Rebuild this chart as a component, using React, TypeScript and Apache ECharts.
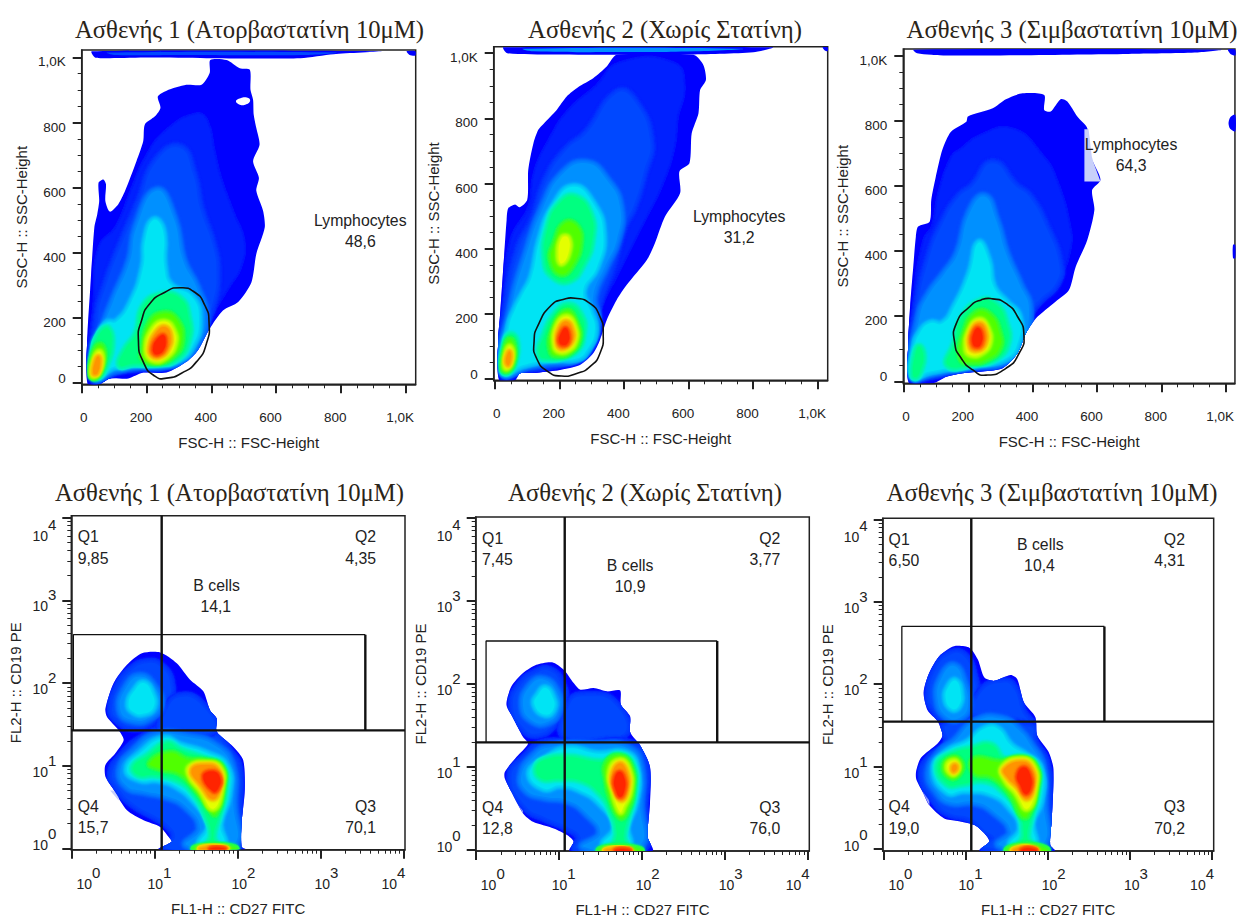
import React, { useEffect, useRef } from "react";
import * as echarts from "echarts";

type Contour = [number, number[][]];

const titles = [
  "Ασθενής 1 (Ατορβαστατίνη 10μΜ)",
  "Ασθενής 2 (Χωρίς Στατίνη)",
  "Ασθενής 3 (Σιμβαστατίνη 10μΜ)",
  "Ασθενής 1 (Ατορβαστατίνη 10μΜ)",
  "Ασθενής 2 (Χωρίς Στατίνη)",
  "Ασθενής 3 (Σιμβαστατίνη 10μΜ)",
];
const fscTicks = [0, 200, 400, 600, 800, 1000];
const fscMinorTicks = [50, 100, 150, 250, 300, 350, 450, 500, 550, 650, 700, 750, 850, 900, 950];
const logTicks = [1, 10, 100, 1000, 10000];
const logMinorTicks = [2, 3, 4, 5, 6, 7, 8, 9, 20, 30, 40, 50, 60, 70, 80, 90, 200, 300, 400, 500, 600, 700, 800, 900, 2000, 3000, 4000, 5000, 6000, 7000, 8000, 9000];

const palette = ["#0000ff", "#0020ff", "#0048ff", "#0090ff", "#00e4f4", "#00ff80", "#50ff00", "#e4ff00", "#ff9400", "#ff2400", "#ffffff", "#c8d0fa"];

const contoursA: Contour[] = [
  [0, [[18,-4],[18,151],[26,284],[39,477],[48,518],[54,559],[52,615],[67,625],[75,610],[73,559],[87,526],[113,549],[134,590],[169,681],[190,743],[195,794],[226,819],[243,845],[235,880],[262,898],[323,916],[370,916],[395,952],[397,992],[447,992],[488,967],[519,962],[521,901],[529,870],[531,824],[539,783],[549,732],[529,681],[547,630],[539,590],[560,528],[565,477],[539,396],[524,309],[483,248],[436,222],[395,166],[359,100],[323,64],[262,31],[190,31],[144,13],[87,13],[56,-4]]],
  [0, [[31,1019],[41,1000],[87,998],[210,1000],[385,998],[675,998],[778,1010],[925,1019]]],
  [0, [[1003,1019],[1012,1008],[1030,1006],[1030,1019]]],
  [2, [[80,1015],[100,1008],[300,1008],[700,1008],[780,1015]]],
  [10, [[476,866],[490,875],[510,877],[520,868],[508,856],[488,855]]],
  [1, [[31,8],[41,253],[56,416],[108,477],[159,600],[200,692],[262,773],[354,824],[385,804],[406,712],[426,630],[467,518],[498,437],[488,355],[457,304],[406,222],[365,151],[323,90],[262,49],[180,44],[108,29]]],
  [2, [[46,18],[51,202],[77,304],[128,437],[180,559],[231,681],[303,722],[344,640],[365,538],[406,416],[416,334],[406,253],[375,171],[334,100],[262,54],[190,49],[108,39]]],
  [3, [[41,18],[62,151],[98,253],[149,375],[169,477],[231,590],[283,508],[313,375],[354,294],[380,202],[354,120],[313,74],[252,54],[180,54],[98,39]]],
  [4, [[46,23],[56,131],[77,182],[108,187],[154,250],[190,355],[197,440],[222,500],[250,470],[255,355],[275,300],[339,265],[362,192],[339,110],[293,69],[231,59],[159,59],[98,49]]],
  [5, [[118,54],[133,100],[169,151],[190,233],[241,269],[303,259],[329,202],[329,131],[293,74],[231,59],[159,59]]],
  [5, [[36,23],[36,90],[56,151],[82,166],[92,110],[77,59],[56,23]]],
  [6, [[190,100],[210,182],[252,212],[293,192],[308,131],[283,85],[231,64],[190,75]]],
  [6, [[31,23],[39,90],[56,115],[68,90],[56,39],[41,18]]],
  [7, [[200,100],[221,167],[257,187],[283,161],[288,120],[262,80],[221,69]]],
  [7, [[34,23],[41,75],[54,95],[62,75],[51,34]]],
  [8, [[210,110],[231,156],[257,171],[274,146],[267,105],[241,80],[216,84]]],
  [8, [[36,29],[43,69],[52,80],[56,64],[48,29]]],
  [9, [[221,110],[231,131],[252,146],[259,125],[252,100],[236,88],[223,92]]],
];
const gateA = [[303,292],[349,278],[380,238],[393,187],[385,120],[354,64],[308,29],[262,14],[226,20],[190,64],[175,131],[185,192],[210,243],[257,278]];

const contoursB: Contour[] = [
  [0, [[14,-4],[11,120],[17,202],[27,345],[37,488],[42,524],[63,536],[78,527],[101,550],[104,642],[120,724],[135,765],[151,783],[192,826],[223,867],[259,896],[305,923],[347,959],[378,995],[615,995],[646,964],[654,918],[636,887],[631,816],[610,754],[603,662],[572,637],[574,570],[527,498],[496,417],[471,365],[409,289],[378,243],[347,181],[326,120],[305,79],[264,43],[202,28],[120,19],[78,17],[63,-4]]],
  [0, [[27,1018],[39,1000],[183,996],[594,996],[801,1003],[860,1018]]],
  [0, [[1015,1018],[1022,1008],[1031,1006],[1031,1018]]],
  [3, [[90,1014],[120,1006],[400,1004],[620,1006],[760,1014]]],
  [1, [[22,17],[32,242],[53,427],[109,529],[125,631],[171,733],[233,826],[316,897],[388,968],[553,968],[584,896],[563,804],[553,712],[512,589],[471,507],[429,425],[378,323],[331,231],[305,140],[274,79],[222,48],[161,33],[78,23]]],
  [2, [[27,23],[42,242],[78,406],[120,488],[161,611],[223,703],[285,754],[378,877],[429,857],[481,734],[460,631],[429,529],[398,468],[362,345],[326,253],[300,161],[274,99],[223,58],[161,43],[78,33]]],
  [3, [[27,23],[53,222],[99,386],[151,529],[212,631],[285,662],[347,611],[388,529],[378,427],[342,345],[305,253],[316,181],[295,107],[254,63],[182,53],[109,43]]],
  [4, [[29,26],[45,161],[63,212],[89,263],[115,314],[140,427],[181,529],[243,590],[305,538],[336,445],[316,343],[274,271],[295,211],[310,150],[285,89],[254,63],[182,63],[130,53],[89,43]]],
  [5, [[156,365],[166,468],[202,539],[249,559],[296,507],[301,425],[275,354],[233,303],[181,314]]],
  [5, [[140,74],[156,140],[181,191],[228,227],[269,191],[274,140],[254,89],[212,69],[176,63]]],
  [5, [[27,26],[32,99],[47,135],[66,120],[63,58],[42,23]]],
  [6, [[176,365],[187,417],[218,477],[254,467],[264,417],[243,355],[207,323]]],
  [6, [[176,84],[181,150],[223,207],[254,166],[259,120],[233,84],[202,74]]],
  [6, [[27,33],[35,94],[47,120],[58,94],[53,48],[39,28]]],
  [7, [[198,376],[208,432],[228,432],[228,386],[208,355]]],
  [7, [[187,99],[192,161],[223,191],[249,156],[249,115],[228,89],[202,84]]],
  [7, [[32,43],[39,89],[47,99],[54,79],[47,48],[37,33]]],
  [8, [[194,110],[200,156],[223,176],[241,150],[241,120],[223,99],[204,94]]],
  [8, [[35,53],[41,79],[47,84],[50,68],[43,43]]],
  [9, [[200,115],[208,145],[221,156],[230,135],[228,115],[215,104]]],
];
const gateB = [[249,248],[295,232],[326,191],[336,140],[326,79],[295,38],[254,17],[207,9],[166,22],[130,63],[122,115],[135,166],[176,227],[212,244]];

const contoursC: Contour[] = [
  [0, [[16,-6],[13,106],[19,229],[29,352],[37,444],[44,475],[80,490],[85,557],[99,628],[116,700],[127,731],[147,767],[194,797],[199,813],[276,838],[317,866],[369,884],[436,879],[436,833],[456,828],[487,866],[508,859],[539,813],[570,777],[580,690],[590,669],[611,618],[585,587],[592,526],[570,434],[534,352],[513,280],[472,245],[410,193],[379,147],[353,86],[307,40],[245,30],[183,25],[132,14],[91,-6]]],
  [0, [[29,1018],[41,1007],[132,1000],[698,1005],[904,1009],[987,1018]]],
  [0, [[1007,1018],[1015,1005],[1030,1000],[1030,1018]]],
  [0, [[1030,818],[1014,810],[1009,792],[1014,775],[1030,767]]],
  [0, [[1023,419],[1030,419],[1030,378],[1023,378]]],
  [11, [[561,774],[574,774],[584,690],[590,669],[611,613],[561,613]]],
  [1, [[24,14],[34,250],[65,435],[91,475],[111,578],[152,690],[178,710],[235,751],[338,772],[430,690],[471,619],[513,475],[513,404],[482,322],[430,250],[389,189],[358,106],[307,55],[224,40],[153,30],[80,14]]],
  [2, [[29,19],[44,229],[80,383],[121,485],[173,567],[214,598],[276,669],[348,598],[389,567],[441,475],[482,362],[472,301],[420,250],[379,199],[358,127],[307,60],[224,45],[153,35],[80,19]]],
  [3, [[29,19],[49,199],[80,270],[127,332],[168,393],[204,516],[250,567],[286,495],[317,393],[358,301],[389,219],[358,106],[307,60],[224,50],[153,40],[80,25]]],
  [4, [[29,19],[34,106],[49,147],[80,178],[121,178],[158,230],[205,332],[232,425],[262,373],[278,291],[317,245],[358,199],[353,117],[317,71],[245,55],[163,45],[80,30]]],
  [5, [[137,50],[158,117],[178,189],[235,245],[286,235],[317,178],[322,117],[286,71],[224,55]]],
  [5, [[29,19],[34,76],[47,106],[60,76],[51,35],[39,14]]],
  [6, [[178,71],[188,147],[224,209],[266,204],[296,147],[296,102],[260,71],[214,60]]],
  [7, [[194,97],[204,158],[235,189],[260,163],[266,117],[240,86],[209,81]]],
  [8, [[206,106],[212,158],[235,178],[253,158],[253,117],[232,96]]],
  [9, [[214,117],[219,153],[232,163],[243,142],[240,117],[228,106]]],
];
const gateC = [[276,253],[317,239],[353,199],[373,142],[358,86],[317,40],[255,19],[214,35],[178,71],[158,117],[163,178],[204,229],[240,250]];

// lower row: points are log10 of FL1-H and FL2-H
const contoursD: Contour[] = [
  [0, [[1.05,-0.01],[1.21,0.08],[1.17,0.14],[1.07,0.26],[0.87,0.34],[0.67,0.46],[0.51,0.71],[0.41,0.87],[0.41,1.01],[0.53,1.15],[0.63,1.31],[0.57,1.43],[0.43,1.59],[0.41,1.69],[0.51,2.0],[0.67,2.22],[0.85,2.36],[1.07,2.37],[1.27,2.24],[1.43,2.04],[1.59,1.9],[1.67,1.67],[1.75,1.57],[1.75,1.41],[1.95,1.23],[2.07,1.07],[2.09,0.71],[2.05,0.3],[2.05,0.02],[2.1,-0.01]]],
  [11, [[0.466,0.7],[0.57,0.7],[0.57,0.58]]],
  [2, [[0.49,1.69],[0.57,1.96],[0.73,2.16],[0.91,2.24],[1.07,2.2],[1.19,2.0],[1.15,1.72],[0.99,1.55],[0.75,1.47],[0.55,1.57]]],
  [2, [[0.49,0.91],[0.61,1.11],[0.83,1.31],[1.15,1.45],[1.63,1.43],[1.91,1.15],[2.01,0.95],[2.01,0.54],[1.99,0.02],[1.15,0],[1.25,0.14],[1.15,0.3],[1.03,0.38],[0.75,0.54],[0.55,0.75]]],
  [2, [[1.11,1.43],[1.15,1.67],[1.31,1.83],[1.55,1.75],[1.71,1.43]]],
  [3, [[0.59,1.67],[0.67,1.96],[0.83,2.08],[0.99,1.96],[1.07,1.75],[0.95,1.59],[0.75,1.55]]],
  [3, [[0.59,0.95],[0.75,1.17],[1.03,1.37],[1.39,1.35],[1.75,1.23],[1.93,0.99],[1.95,0.54],[1.95,0.04],[1.39,0.04],[1.55,0.24],[1.39,0.5],[1.15,0.63],[0.87,0.69],[0.67,0.75]]],
  [4, [[0.69,1.75],[0.77,1.92],[0.87,2.0],[0.97,1.88],[0.99,1.71],[0.87,1.63],[0.75,1.65]]],
  [4, [[0.67,0.95],[0.83,1.15],[1.11,1.33],[1.31,1.25],[1.63,1.15],[1.87,0.99],[1.89,0.63],[1.79,0.3],[1.83,0.04],[1.55,0.04],[1.67,0.3],[1.51,0.54],[1.27,0.75],[1.03,0.83],[0.83,0.83]]],
  [5, [[0.75,0.99],[0.91,1.11],[1.15,1.27],[1.31,1.19],[1.59,1.09],[1.81,0.99],[1.85,0.71],[1.77,0.38],[1.71,0.14],[1.75,0.04],[1.65,0.04],[1.69,0.16],[1.63,0.38],[1.47,0.67],[1.27,0.83],[0.99,0.89],[0.81,0.89]]],
  [6, [[0.95,1.03],[1.19,1.15],[1.39,1.07],[1.63,1.05],[1.81,0.97],[1.81,0.71],[1.73,0.42],[1.67,0.5],[1.51,0.71],[1.31,0.91],[1.07,0.97]]],
  [6, [[1.49,-0.01],[1.67,0.03],[1.87,0.02],[1.97,-0.01]]],
  [7, [[1.43,0.99],[1.63,1.03],[1.79,0.97],[1.81,0.75],[1.71,0.48],[1.55,0.71],[1.43,0.87]]],
  [8, [[1.45,0.95],[1.65,1.01],[1.77,0.95],[1.79,0.77],[1.71,0.6],[1.57,0.75]]],
  [8, [[1.55,-0.01],[1.71,0.02],[1.87,-0.01]]],
  [9, [[1.59,0.87],[1.71,0.93],[1.79,0.85],[1.77,0.73],[1.71,0.69]]],
  [9, [[1.67,-0.01],[1.75,0.012],[1.85,-0.01]]],
];

const contoursE: Contour[] = [
  [0, [[1.13,-0.01],[1.18,0.1],[1.1,0.18],[0.94,0.26],[0.69,0.34],[0.57,0.44],[0.43,0.7],[0.35,0.86],[0.35,0.94],[0.49,1.12],[0.63,1.28],[0.57,1.36],[0.45,1.59],[0.37,1.75],[0.43,1.97],[0.57,2.13],[0.73,2.23],[0.92,2.26],[1.06,2.17],[1.18,2.01],[1.26,1.93],[1.42,1.95],[1.58,1.91],[1.74,1.92],[1.75,1.75],[1.86,1.61],[1.86,1.42],[1.98,1.26],[2.1,1.0],[2.1,0.56],[2.07,0.16],[2.13,-0.01]]],
  [11, [[0.43,0.69],[0.57,0.69],[0.57,0.44]]],
  [2, [[0.45,1.73],[0.53,1.97],[0.73,2.13],[0.9,2.15],[1.02,2.01],[1.06,1.77],[0.94,1.52],[0.73,1.4],[0.57,1.48]]],
  [2, [[1.1,1.36],[1.14,1.77],[1.34,1.85],[1.66,1.77],[1.78,1.4]]],
  [2, [[0.43,0.88],[0.61,1.12],[0.82,1.28],[1.22,1.26],[1.9,1.26],[2.04,1.0],[2.02,0.56],[2.0,0.02],[1.22,0.02],[1.26,0.16],[1.1,0.28],[0.82,0.4],[0.61,0.52]]],
  [3, [[0.57,1.73],[0.65,1.97],[0.82,2.05],[0.98,1.89],[1.0,1.69],[0.86,1.54],[0.68,1.56]]],
  [3, [[0.55,0.9],[0.69,1.12],[0.9,1.24],[1.46,1.26],[1.84,1.22],[1.98,1.0],[1.98,0.56],[1.96,0.04],[1.3,0.04],[1.5,0.2],[1.34,0.44],[1.1,0.6],[0.82,0.64],[0.61,0.72]]],
  [4, [[0.71,1.75],[0.76,1.88],[0.84,1.95],[0.92,1.85],[0.94,1.71],[0.84,1.63]]],
  [4, [[0.65,0.92],[0.82,1.08],[1.1,1.22],[1.46,1.16],[1.82,1.16],[1.94,0.96],[1.92,0.56],[1.82,0.28],[1.84,0.06],[1.54,0.06],[1.68,0.28],[1.5,0.56],[1.26,0.72],[1.02,0.78],[0.82,0.74]]],
  [5, [[0.73,0.98],[0.82,1.08],[1.1,1.12],[1.54,1.06],[1.7,1.14],[1.88,1.04],[1.91,0.72],[1.82,0.36],[1.78,0.16],[1.8,0.06],[1.68,0.06],[1.7,0.2],[1.64,0.44],[1.5,0.68],[1.26,0.84],[0.98,0.86],[0.8,0.86]]],
  [6, [[1.58,1.04],[1.74,1.12],[1.86,1.0],[1.88,0.72],[1.8,0.44],[1.74,0.4],[1.64,0.6],[1.58,0.84]]],
  [6, [[1.5,-0.01],[1.62,0.03],[1.82,0.03],[1.98,-0.01]]],
  [7, [[1.62,0.96],[1.74,1.08],[1.84,0.98],[1.86,0.72],[1.78,0.52],[1.74,0.46],[1.66,0.68]]],
  [8, [[1.64,0.88],[1.73,1.04],[1.82,0.94],[1.83,0.74],[1.76,0.6],[1.68,0.72]]],
  [8, [[1.56,-0.01],[1.72,0.02],[1.86,-0.01]]],
  [9, [[1.67,0.84],[1.73,0.94],[1.79,0.86],[1.79,0.72],[1.74,0.64],[1.69,0.72]]],
  [9, [[1.68,-0.01],[1.76,0.012],[1.86,-0.01]]],
];

const contoursF: Contour[] = [
  [0, [[1.17,-0.02],[1.29,0.09],[1.23,0.19],[1.11,0.29],[0.9,0.34],[0.74,0.37],[0.56,0.53],[0.48,0.69],[0.4,0.85],[0.4,0.95],[0.46,1.11],[0.66,1.28],[0.72,1.38],[0.66,1.55],[0.54,1.68],[0.49,1.9],[0.56,2.14],[0.68,2.34],[0.86,2.46],[1.05,2.44],[1.15,2.3],[1.23,2.08],[1.35,2.04],[1.55,2.11],[1.63,2.06],[1.71,1.78],[1.85,1.6],[1.87,1.38],[2.01,1.18],[2.07,0.97],[2.05,0.37],[2.03,0.05],[2.09,-0.02]]],
  [11, [[0.48,0.69],[0.56,0.69],[0.56,0.53]]],
  [2, [[0.56,1.86],[0.64,2.18],[0.82,2.36],[0.98,2.34],[1.09,2.1],[1.15,1.7],[1.07,1.58],[0.78,1.56],[0.62,1.7]]],
  [2, [[1.11,1.54],[1.19,1.9],[1.47,2.02],[1.59,1.94],[1.69,1.66],[1.79,1.5]]],
  [2, [[0.48,0.89],[0.58,1.11],[0.78,1.26],[0.78,1.5],[1.79,1.48],[1.83,1.3],[1.97,1.05],[2.01,0.57],[1.99,0.03],[1.23,0.03],[1.35,0.13],[1.23,0.23],[1.07,0.37],[0.78,0.45],[0.62,0.61]]],
  [3, [[0.66,1.82],[0.72,2.1],[0.86,2.22],[0.98,2.02],[1.03,1.74],[0.94,1.6],[0.78,1.6]]],
  [3, [[0.56,0.93],[0.7,1.18],[0.86,1.3],[1.11,1.54],[1.43,1.58],[1.67,1.42],[1.79,1.26],[1.93,1.01],[1.95,0.57],[1.93,0.05],[1.41,0.05],[1.55,0.21],[1.35,0.45],[1.11,0.57],[0.82,0.57],[0.66,0.69]]],
  [4, [[0.76,1.82],[0.8,1.98],[0.88,2.04],[0.94,1.9],[0.92,1.74],[0.84,1.7]]],
  [4, [[0.62,0.97],[0.78,1.18],[1.03,1.3],[1.23,1.46],[1.39,1.46],[1.55,1.26],[1.75,1.13],[1.91,0.97],[1.91,0.57],[1.81,0.33],[1.83,0.05],[1.55,0.05],[1.67,0.25],[1.55,0.49],[1.31,0.67],[0.98,0.71],[0.78,0.69]]],
  [5, [[0.66,1.01],[0.82,1.15],[1.07,1.22],[1.31,1.26],[1.47,1.09],[1.71,1.11],[1.85,1.01],[1.88,0.73],[1.79,0.37],[1.75,0.15],[1.79,0.05],[1.67,0.05],[1.71,0.17],[1.65,0.45],[1.47,0.69],[1.23,0.83],[0.95,0.79],[0.78,0.79]]],
  [6, [[0.74,0.99],[0.84,1.1],[0.94,1.05],[0.94,0.95],[0.84,0.87]]],
  [6, [[1.11,1.09],[1.43,1.05],[1.67,1.09],[1.85,0.99],[1.85,0.73],[1.75,0.41],[1.69,0.41],[1.59,0.61],[1.47,0.77],[1.31,0.89],[1.11,0.93]]],
  [6, [[1.52,-0.02],[1.64,0.03],[1.86,0.03],[1.98,-0.02]]],
  [7, [[0.78,1.01],[0.86,1.07],[0.91,1.02],[0.9,0.95],[0.84,0.91]]],
  [7, [[1.45,0.99],[1.69,1.09],[1.83,0.99],[1.85,0.77],[1.75,0.49],[1.61,0.69],[1.49,0.83]]],
  [8, [[0.84,1.0],[0.88,1.02],[0.89,0.97],[0.85,0.94]]],
  [8, [[1.47,0.97],[1.69,1.06],[1.81,0.97],[1.83,0.79],[1.75,0.61],[1.63,0.75],[1.51,0.87]]],
  [8, [[1.58,-0.02],[1.72,0.02],[1.86,-0.02]]],
  [9, [[1.63,0.89],[1.71,0.99],[1.79,0.89],[1.79,0.73],[1.73,0.67],[1.67,0.77]]],
  [9, [[1.68,-0.02],[1.76,0.01],[1.86,-0.02]]],
];

const labelsA: [string, number, number, string][] = [["Lymphocytes", 860, 498, "center"], ["48,6", 860, 433, "center"]];
const labelsB: [string, number, number, string][] = [["Lymphocytes", 757, 498, "center"], ["31,2", 757, 434, "center"]];
const labelsC: [string, number, number, string][] = [["Lymphocytes", 706, 727, "center"], ["64,3", 706, 662, "center"]];
const labelsD: [string, number, number, string][] = [["Q1", 0.076, 3.77, "left"], ["9,85", 0.076, 3.51, "left"], ["Q2", 3.67, 3.77, "right"], ["4,35", 3.67, 3.51, "right"], ["Q4", 0.076, 0.51, "left"], ["15,7", 0.076, 0.25, "left"], ["Q3", 3.67, 0.51, "right"], ["70,1", 3.67, 0.25, "right"], ["B cells", 1.75, 3.185, "center"], ["14,1", 1.74, 2.92, "center"]];
const labelsE: [string, number, number, string][] = [["Q1", 0.076, 3.75, "left"], ["7,45", 0.076, 3.5, "left"], ["Q2", 3.67, 3.75, "right"], ["3,77", 3.67, 3.5, "right"], ["Q4", 0.076, 0.51, "left"], ["12,8", 0.076, 0.26, "left"], ["Q3", 3.67, 0.51, "right"], ["76,0", 3.67, 0.26, "right"], ["B cells", 1.86, 3.42, "center"], ["10,9", 1.86, 3.17, "center"]];
const labelsF: [string, number, number, string][] = [["Q1", 0.064, 3.755, "left"], ["6,50", 0.064, 3.5, "left"], ["Q2", 3.67, 3.755, "right"], ["4,31", 3.67, 3.5, "right"], ["Q4", 0.064, 0.51, "left"], ["19,0", 0.064, 0.25, "left"], ["Q3", 3.67, 0.51, "right"], ["70,2", 3.67, 0.25, "right"], ["B cells", 1.91, 3.69, "center"], ["10,4", 1.9, 3.44, "center"]];

// quadrant gate: vertical, horizontal; B-cell gate: left, top, right (all log10)
const quadD = [1.088, 1.427]; const rectD = [0.024, 2.585, 3.542];
const quadE = [1.072, 1.296]; const rectE = [0.124, 2.516, 2.91];
const quadF = [1.07, 1.545]; const rectF = [0.225, 2.7, 2.69];

const SANS = "'Liberation Sans', Arial, sans-serif";
const INK = "#222";
const haloWidth = [0, 6, 10, 10, 8, 8, 8, 7, 6, 5, 0, 0];
const SMOOTH_FILL = 0.5;

function mix(a: string, b: string, t: number) {
  const ch = (s: string, i: number) => parseInt(s.slice(1 + i * 2, 3 + i * 2), 16);
  const v = [0, 1, 2].map((i) => Math.round(ch(a, i) + (ch(b, i) - ch(a, i)) * t));
  return `rgb(${v[0]},${v[1]},${v[2]})`;
}

function fscFormatter(v: number) {
  return v === 1000 ? "{n|1,0K}" : v === 0 ? "{z|0}" : `{n|${v}}`;
}

function mainAxisBase(grid: number, log: boolean, min: number, max: number, major: number[], name: string) {
  return {
    gridIndex: grid, type: log ? "log" : "value", logBase: 10, min, max,
    name, nameLocation: "middle",
    nameTextStyle: { fontFamily: SANS, fontSize: 15, color: INK },
    splitLine: { show: false },
    axisLine: { show: true, onZero: false, lineStyle: { color: INK, width: 1.5 } },
    axisTick: { show: true, length: 9, customValues: major, lineStyle: { color: INK, width: 2 } },
  };
}
function minorAxis(grid: number, log: boolean, min: number, max: number, minor: number[], position: string) {
  return {
    gridIndex: grid, type: log ? "log" : "value", logBase: 10, min, max, position,
    splitLine: { show: false },
    axisLine: { show: false, onZero: false },
    axisLabel: { show: false },
    axisTick: { show: true, length: 4, customValues: minor, lineStyle: { color: INK, width: 1 } },
  };
}
const tok = { fontFamily: SANS, color: INK };
function logRichX() {
  const pads = [[34, 0], [10, 0], [12, 0], [12, 0], [0, 20]];
  const r: any = {};
  pads.forEach(([l, rr], e) => {
    r[`b${e}`] = { ...tok, fontSize: 14, lineHeight: 26, verticalAlign: "bottom", padding: [0, 0, 0, l] };
    r[`s${e}`] = { ...tok, fontSize: 15, lineHeight: 26, verticalAlign: "top", padding: [0, rr, 0, 0] };
  });
  return r;
}
function logRichY() {
  const r: any = {};
  [0, 1, 2, 3, 4].forEach((e) => {
    const down = e === 4 ? 24 : 0;
    const up = e === 0 ? 18 : 0;
    const lh = 26 + down + up;
    r[`b${e}`] = { ...tok, fontSize: 14, lineHeight: lh, verticalAlign: "bottom", padding: [0, 0, up, 0] };
    r[`s${e}`] = { ...tok, fontSize: 15, lineHeight: lh, verticalAlign: "top", padding: [down, 0, 0, 0] };
  });
  return r;
}
function logFormatter(v: number) {
  const e = Math.round(Math.log10(v));
  return `{b${e}|10}{s${e}|${e}}`;
}

function buildOption() {
  const panels = [
    { c: contoursA, gate: gateA, labels: labelsA, log: false, g: [81.7, 50, 334, 334.3], x: [0, 1031], y: [-5, 1023], nameY: 53 },
    { c: contoursB, gate: gateB, labels: labelsB, log: false, g: [493.7, 46.7, 334, 333.6], x: [-3, 1031], y: [-4, 1020], nameY: 53 },
    { c: contoursC, gate: gateC, labels: labelsC, log: false, g: [903.3, 49, 334, 334.3], x: [-2, 1029], y: [-6, 1020], nameY: 53 },
    { c: contoursD, quad: quadD, rect: rectD, labels: labelsD, log: true, g: [71.3, 515.7, 333.7, 334], x: [-0.001, 4.02], y: [-0.016, 4.024], nameY: 48 },
    { c: contoursE, quad: quadE, rect: rectE, labels: labelsE, log: true, g: [475.7, 517, 333.6, 334], x: [-0.001, 4.02], y: [-0.012, 4.009], nameY: 48 },
    { c: contoursF, quad: quadF, rect: rectF, labels: labelsF, log: true, g: [882.7, 518.3, 334, 334.4], x: [-0.008, 4.02], y: [-0.024, 4.012], nameY: 48 },
  ] as any[];
  const titleCenters = [[244.5, 12], [660, 12], [1067, 12], [224.5, 475], [640, 475], [1047, 475]];

  const grid = panels.map((p) => ({ left: p.g[0], top: p.g[1], width: p.g[2], height: p.g[3], show: true, backgroundColor: "#fff", borderColor: INK, borderWidth: 1.5, containLabel: false }));
  const xAxis: any[] = [];
  const yAxis: any[] = [];
  const series: any[] = [];

  panels.forEach((p, i) => {
    const conv = (a: number) => (p.log ? Math.pow(10, a) : a);
    const xr = p.x.map(conv);
    const yr = p.y.map(conv);
    const major = p.log ? logTicks : fscTicks;
    const xName = p.log ? "FL1-H :: CD27 FITC" : "FSC-H :: FSC-Height";
    const yName = p.log ? "FL2-H :: CD19 PE" : "SSC-H :: SSC-Height";
    xAxis.push({
      ...mainAxisBase(i, p.log, xr[0], xr[1], major, xName), position: "bottom", nameGap: 51,
      axisLabel: p.log
        ? { customValues: major, margin: 15, formatter: logFormatter, rich: logRichX(), hideOverlap: false, showMinLabel: true, showMaxLabel: true }
        : { customValues: major, margin: 26, formatter: fscFormatter, hideOverlap: false, rich: { n: { ...tok, fontSize: 13.5, padding: [0, 11, 0, 0] }, z: { ...tok, fontSize: 13.5, padding: [0, 0, 0, 4] } } },
    });
    yAxis.push({
      ...mainAxisBase(i, p.log, yr[0], yr[1], major, yName), position: "left", nameGap: p.nameY,
      axisLabel: p.log
        ? { customValues: major, margin: 15, formatter: logFormatter, rich: logRichY(), hideOverlap: false, showMinLabel: true, showMaxLabel: true }
        : { customValues: major, margin: 16, formatter: fscFormatter, hideOverlap: false, rich: { n: { ...tok, fontSize: 13.5, padding: [9, 0, 0, 0] }, z: { ...tok, fontSize: 13.5, padding: [0, 0, 9, 0] } } },
    });
  });
  panels.forEach((p, i) => {
    const conv = (a: number) => (p.log ? Math.pow(10, a) : a);
    const xr = p.x.map(conv);
    const yr = p.y.map(conv);
    const minor = p.log ? logMinorTicks : fscMinorTicks;
    xAxis.push(minorAxis(i, p.log, xr[0], xr[1], minor, "bottom"));
    yAxis.push(minorAxis(i, p.log, yr[0], yr[1], minor, "left"));

    const pt = (q: number[]) => [conv(q[0]), conv(q[1])];
    series.push({
      type: "custom", coordinateSystem: "cartesian2d", xAxisIndex: i, yAxisIndex: i, z: 2, clip: true, silent: true,
      data: p.c.map((_: Contour, k: number) => [k]),
      renderItem: (params: any, api: any) => {
        const [level, pts] = p.c[params.dataIndex] as Contour;
        const points = pts.map((q) => api.coord(pt(q)));
        if (level === 0) return { type: "polygon", shape: { points, smooth: 0.25 }, style: { fill: palette[0] } };
        if (level >= 10) return { type: "polygon", shape: { points, smooth: level === 10 ? 0.5 : 0 }, style: { fill: palette[level] } };
        const strip = !p.log && pts[0][1] > 900;
        const w = strip ? 0 : haloWidth[level];
        const shape = { points, smooth: SMOOTH_FILL };
        const prev = palette[level - 1];
        const cur = palette[level];
        const children: any[] = [];
        if (w) {
          [[0.2, 1], [0.4, 0.78], [0.6, 0.55], [0.8, 0.3]].forEach(([t, f]) => {
            const color = mix(prev, cur, t);
            children.push({ type: "polygon", shape, style: { fill: "none", stroke: color, lineWidth: w * f, lineJoin: "round", shadowBlur: 3, shadowColor: color } });
          });
        }
        children.push({ type: "polygon", shape, style: { fill: cur } });
        const outer = p.c[0][1].map((q: number[]) => api.coord(pt(q)));
        return {
          type: "group",
          clipPath: strip ? undefined : { type: "polygon", shape: { points: outer, smooth: 0.25 } },
          children,
        };
      },
    });
    if (p.gate) {
      series.push({
        type: "custom", coordinateSystem: "cartesian2d", xAxisIndex: i, yAxisIndex: i, z: 3, clip: true, silent: true,
        data: [[0]],
        renderItem: (_: any, api: any) => ({
          type: "polygon",
          shape: { points: p.gate.map((q: number[]) => api.coord(q)), smooth: 0.6 },
          style: { fill: "none", stroke: "#111", lineWidth: 1.6 },
        }),
      });
    }
    if (p.quad) {
      const [v, h] = p.quad;
      const [l, t, r] = p.rect;
      const line = (d: number[][], w: number) => ({
        type: "line", xAxisIndex: i, yAxisIndex: i, z: 3, silent: true, symbol: "none", animation: false,
        lineStyle: { color: "#111", width: w }, data: d.map(pt),
      });
      series.push(line([[l, h], [l, t], [r, t]], 1.3));
      series.push(line([[r, t], [r, h]], 2.4));
      series.push(line([[v, p.y[0]], [v, p.y[1]]], 2.4));
      series.push(line([[p.x[0], h], [p.x[1], h]], 2.4));
    }
    series.push({
      type: "custom", coordinateSystem: "cartesian2d", xAxisIndex: i, yAxisIndex: i, z: 4, clip: false, silent: true,
      data: p.labels.map((_: any, k: number) => [k]),
      renderItem: (params: any, api: any) => {
        const [text, lx, ly, align] = p.labels[params.dataIndex];
        const c = api.coord(pt([lx, ly]));
        return {
          type: "text", x: c[0], y: c[1],
          style: { text, fontFamily: SANS, fontSize: 15.8, fill: INK, align, verticalAlign: "middle" },
        };
      },
    });
  });

  return {
    animation: false,
    backgroundColor: "#fff",
    title: titles.map((t, i) => ({
      text: t, left: titleCenters[i][0], top: titleCenters[i][1], textAlign: "center",
      textStyle: { fontFamily: "'Liberation Serif', 'Times New Roman', serif", fontSize: 24.7, fontWeight: "normal", color: "#2a2418" },
    })),
    grid, xAxis, yAxis, series,
  };
}

export default function App() {
  const ref = useRef<HTMLDivElement>(null);
  useEffect(() => {
    document.body.style.margin = "0";
    const chart = echarts.init(ref.current!, undefined, { renderer: "svg" });
    chart.setOption(buildOption() as any);
    return () => chart.dispose();
  }, []);
  return <div ref={ref} style={{ position: "absolute", left: 0, top: 0, width: 1237, height: 918 }} />;
}
